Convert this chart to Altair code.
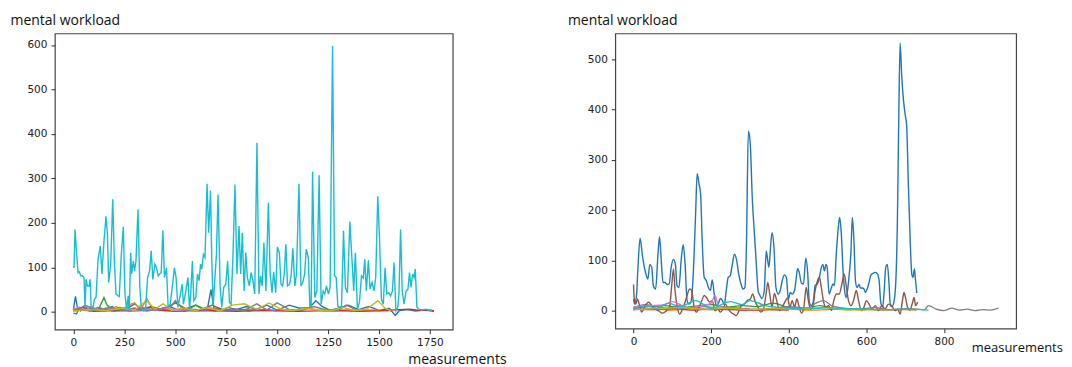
import altair as alt
import pandas as pd

# ---------------- LEFT PANEL DATA ----------------
left_cyan_x = [0, 3, 8, 16, 23, 29, 36, 44, 52, 57, 62, 69, 77, 82, 87, 95, 103, 111, 121, 132, 140, 150, 160, 167, 173, 183, 193, 201, 209, 219, 225, 235, 245, 253, 261, 269, 274, 281, 286, 294, 300, 307, 317, 326, 333, 343, 354, 364, 374, 382, 390, 400, 408, 416, 423, 431, 439, 447, 457, 465, 475, 485, 496, 504, 513, 522, 534, 540, 552, 562, 570, 576, 584, 591, 601, 609, 617, 624, 630, 638, 646, 656, 664, 673, 679, 686, 694, 702, 710, 720, 728, 738, 748, 757, 766, 774, 784, 793, 803, 813, 821, 829, 838, 846, 854, 864, 872, 880, 890, 901, 911, 919, 927, 935, 945, 957, 966, 975, 983, 993, 1001, 1011, 1019, 1027, 1035, 1043, 1051, 1061, 1069, 1077, 1087, 1095, 1107, 1117, 1126, 1135, 1143, 1153, 1161, 1167, 1174, 1185, 1195, 1206, 1216, 1226, 1234, 1242, 1252, 1260, 1272, 1282, 1290, 1298, 1306, 1316, 1326, 1335, 1345, 1357, 1366, 1376, 1384, 1394, 1404, 1414, 1423, 1430, 1438, 1448, 1456, 1466, 1476, 1484, 1494, 1503, 1512, 1521, 1530, 1538, 1548, 1557, 1566, 1574, 1583, 1592, 1598, 1606, 1614, 1623, 1633, 1642, 1650, 1657, 1665, 1672, 1678, 1686, 1695, 1710, 1730, 1750, 1760]
left_cyan_y = [103, 99, 185, 129, 88, 90, 81, 81, 77, 10, 73, 58, 58, 73, 10, 6, 28, 32, 118, 148, 85, 159, 215, 174, 66, 107, 253, 114, 40, 36, 34, 129, 191, 40, 6, 36, 2, 133, 85, 114, 92, 114, 230, 55, 10, 2, 4, 77, 92, 137, 73, 107, 99, 81, 85, 88, 183, 77, 99, 10, 17, 55, 99, 77, 10, 32, 62, 17, 47, 77, 6, 40, 114, 25, 32, 85, 70, 107, 96, 129, 122, 288, 178, 273, 122, 13, 70, 129, 264, 58, 10, 55, 62, 114, 21, 17, 137, 286, 85, 193, 85, 178, 47, 133, 77, 58, 88, 73, 40, 380, 40, 81, 58, 156, 47, 245, 85, 43, 90, 43, 146, 133, 62, 58, 85, 152, 58, 62, 81, 143, 58, 85, 288, 58, 66, 85, 141, 122, 10, 10, 315, 32, 47, 307, 17, 47, 40, 58, 40, 55, 598, 81, 77, 13, 10, 13, 182, 55, 43, 203, 129, 47, 133, 6, 21, 81, 76, 118, 47, 116, 51, 66, 47, 77, 260, 159, 28, 17, 99, 40, 43, 36, 47, 111, 2, 10, 40, 185, 47, 17, 47, 51, 88, 55, 85, 77, 96, 11, 6, 4, 6, 3, 2]

left_blue_x = [0, 10, 20, 35, 50, 70, 90, 110, 130, 160, 190, 220, 260, 300, 340, 380, 420, 470, 520, 560, 600, 640, 660, 675, 690, 720, 760, 800, 850, 900, 950, 1000, 1060, 1110, 1160, 1190, 1220, 1260, 1300, 1350, 1400, 1450, 1500, 1550, 1580, 1600, 1640, 1680, 1720, 1750, 1770]
left_blue_y = [5, 35, 8, 2, 12, 4, 10, 3, 8, 5, 12, 3, 6, 18, 4, 10, 6, 12, 3, 8, 15, 6, 12, 50, 8, 3, 10, 5, 12, 6, 15, 4, 15, 8, 10, 25, 12, 3, 8, 15, 5, 12, 3, 8, -8, 3, 5, 2, 5, 2, 1]

left_orange_x = [0, 30, 60, 90, 120, 150, 180, 210, 240, 270, 300, 330, 360, 390, 420, 450, 500, 550, 600, 650, 700, 750, 800, 850, 900, 950, 1000, 1050, 1100, 1150, 1200, 1250, 1300, 1350, 1400, 1450, 1500, 1560]
left_orange_y = [8, 3, 10, 4, 6, 2, 5, 12, 3, 15, 20, 4, 30, 5, 3, 8, 4, 6, 3, 7, 2, 5, 3, 6, 2, 4, 3, 5, 2, 8, 4, 2, 3, 5, 2, 4, 3, 2]

left_green_x = [0, 15, 30, 60, 90, 120, 150, 165, 190, 230, 270, 300, 350, 400, 450, 500, 550, 600, 650, 700]
left_green_y = [-3, -5, 10, 3, 8, 2, 32, 15, 5, 10, 3, 8, 4, 6, 3, 5, 2, 15, 4, 2]

left_red_x = [0, 50, 100, 200, 300, 400, 500, 600, 700, 800, 900, 1000, 1100, 1200, 1300, 1400, 1500, 1600, 1650, 1700, 1750, 1770]
left_red_y = [2, 4, 1, 3, 2, 4, 1, 3, 2, 1, 3, 2, 1, 2, 3, 1, 2, 5, 6, 3, 4, 2]

left_purple_x = [0, 40, 80, 120, 170, 220, 280, 340, 400, 460, 520, 580, 640, 700, 760, 820, 880, 940, 1000]
left_purple_y = [3, 8, 2, 10, 4, 6, 2, 9, 3, 7, 2, 6, 3, 8, 2, 5, 3, 6, 2]

left_brown_x = [0, 50, 100, 150, 200, 260, 320, 380, 440, 500, 560, 620, 680, 740, 800, 860, 900]
left_brown_y = [4, 10, 3, 6, 2, 8, 3, 12, 4, 20, 5, 3, 15, 4, 6, 2, 5]

left_pink_x = [0, 30, 60, 90, 120, 160, 200, 250, 300, 350, 400, 450, 500, 550, 600]
left_pink_y = [6, 10, 4, 12, 3, 8, 5, 10, 3, 6, 4, 8, 3, 5, 2]

left_gray_x = [0, 60, 120, 180, 240, 300, 360, 420, 480, 500, 540, 600, 660, 720, 780, 840, 900, 950, 1000, 1060, 1120, 1180, 1240, 1300, 1340, 1400]
left_gray_y = [2, 14, 4, 10, 3, 8, 2, 6, 12, 25, 5, 3, 10, 4, 6, 3, 18, 4, 20, 5, 3, 12, 4, 3, 15, 2]

left_olive_x = [0, 80, 160, 240, 300, 360, 400, 440, 480, 540, 600, 660, 720, 780, 840, 900, 960, 1020, 1080, 1140, 1200, 1260, 1320, 1380, 1440, 1495, 1530, 1560]
left_olive_y = [2, 5, 3, 8, 4, 25, 6, 18, 4, 8, 3, 10, 2, 15, 18, 5, 20, 6, 3, 8, 4, 2, 10, 3, 6, 25, 8, 2]

# ---------------- RIGHT PANEL DATA ----------------
right_blue_x = [0, 3, 8, 11, 17, 23, 30, 37, 42, 47, 51, 57, 63, 67, 71, 76, 81, 87, 92, 97, 103, 108, 112, 117, 123, 128, 133, 138, 143, 148, 153, 160, 164, 169, 173, 177, 182, 188, 193, 198, 203, 208, 213, 218, 224, 229, 234, 239, 244, 249, 254, 260, 266, 271, 277, 282, 287, 291, 296, 301, 306, 311, 316, 321, 326, 331, 337, 342, 346, 349, 353, 357, 362, 367, 373, 378, 383, 389, 394, 399, 404, 409, 415, 419, 423, 427, 433, 438, 444, 449, 453, 458, 463, 468, 474, 479, 484, 488, 492, 496, 499, 504, 510, 514, 518, 522, 527, 531, 535, 540, 544, 548, 552, 556, 560, 564, 568, 572, 576, 581, 585, 589, 594, 598, 602, 606, 612, 617, 623, 628, 633, 637, 642, 646, 650, 654, 658, 662, 666, 671, 676, 680, 683, 687, 691, 696, 700, 704, 708, 713, 717, 720, 724, 726, 730]
right_blue_y = [23, 13, 33, 79, 144, 109, 79, 63, 92, 86, 50, 43, 112, 147, 106, 56, 56, 52, 53, 86, 102, 92, 50, 46, 102, 131, 92, 20, 13, 17, 59, 192, 272, 251, 231, 139, 67, 59, 46, 40, 61, 33, 10, 13, 24, 20, 12, 40, 66, 69, 89, 112, 99, 73, 53, 43, 46, 129, 357, 330, 225, 159, 99, 40, 30, 24, 40, 118, 99, 86, 125, 155, 125, 46, 33, 40, 59, 71, 66, 23, 36, 33, 40, 63, 84, 76, 54, 53, 104, 73, 17, 10, 17, 50, 53, 66, 86, 92, 79, 92, 86, 33, 46, 53, 50, 106, 159, 185, 159, 79, 40, 26, 43, 73, 112, 185, 139, 59, 46, 52, 45, 45, 43, 36, 43, 53, 71, 74, 76, 74, 59, 17, 7, 40, 86, 92, 59, 10, 8, 17, 59, 178, 350, 532, 469, 416, 390, 367, 258, 139, 73, 66, 83, 66, 35]

right_brown_x = [0, 2, 6, 10, 15, 21, 30, 39, 47, 56, 64, 75, 85, 93, 98, 103, 107, 113, 119, 126, 133, 139, 145, 150, 156, 162, 169, 176, 182, 188, 196, 203, 210, 217, 224, 230, 237, 244, 251, 258, 265, 272, 278, 285, 293, 301, 307, 314, 321, 328, 335, 342, 346, 351, 357, 363, 369, 376, 383, 390, 397, 403, 409, 415, 421, 426, 433, 439, 445, 450, 456, 462, 468, 474, 479, 484, 490, 496, 503, 510, 516, 523, 530, 537, 543, 548, 554, 561, 567, 574, 580, 587, 594, 600, 607, 614, 623, 631, 640, 648, 657, 665, 674, 681, 687, 693, 697, 701, 706, 712, 718, 723, 727, 732]
right_brown_y = [52, 23, 13, 23, 12, -3, 10, 17, 10, 3, 0, -5, 0, 7, 46, 83, 40, 7, -7, 3, 17, 33, 43, 40, 8, -3, 7, 20, 30, 26, 17, 20, 0, 3, -3, 3, 13, 3, -3, -7, -10, 0, 10, 13, 20, 23, 33, 17, 7, -3, 3, 36, 56, 33, 7, 34, 20, 0, 7, 17, 25, 7, 20, 7, 23, 10, -5, 7, 46, 23, 3, 7, 40, 59, 67, 46, 17, 7, 10, 0, 20, 33, 33, 53, 73, 50, 20, 10, 20, 40, 20, 0, 7, 20, 13, 3, 10, 0, 10, 3, 13, 10, 0, 3, -7, 20, 36, 26, 7, 1, 13, 26, 10, 17]

right_orange_x = [0, 50, 100, 150, 200, 250, 300, 350, 400, 450, 500, 550, 600, 650, 700, 730]
right_orange_y = [2, 3, 1, 4, 2, 3, 1, 2, 3, 1, 2, 4, 2, 1, 2, 1]

right_green_x = [0, 40, 80, 120, 160, 200, 240, 280, 320, 360, 400, 440, 480, 520, 560]
right_green_y = [5, 8, 10, 6, 9, 12, 7, 10, 8, 15, 6, 4, 10, 3, 2]

right_red_x = [0, 50, 100, 150, 200, 250, 300, 350, 400]
right_red_y = [3, 2, 4, 1, 3, 2, 1, 2, 1]

right_purple_x = [0, 30, 60, 90, 120, 150, 180, 210, 240, 270, 300]
right_purple_y = [6, 12, 8, 5, 10, 4, 8, 6, 3, 5, 2]

right_pink_x = [0, 40, 80, 100, 140, 180, 200, 210, 220, 260, 300]
right_pink_y = [8, 10, 12, 18, 6, 10, 15, 30, 8, 5, 3]

right_gray_x = [0, 50, 100, 150, 200, 250, 300, 350, 400, 450, 470, 490, 510, 540, 580, 620, 660, 700, 730, 750, 760, 780, 800, 820, 840, 860, 880, 900, 920, 940]
right_gray_y = [2, 4, 3, 5, 2, 6, 3, 4, 8, 5, 15, 20, 10, 5, 3, 6, 2, 4, 3, 2, 10, 3, 0, 5, 1, 3, 0, 2, 1, 5]

right_olive_x = [0, 60, 120, 180, 240, 300, 360, 420, 480, 540, 600]
right_olive_y = [2, 4, 6, 3, 5, 2, 4, 3, 6, 2, 1]

right_cyan_x = [0, 30, 60, 90, 120, 160, 200, 250, 280, 300, 340, 400, 450, 500, 550, 600, 650, 700, 760]
right_cyan_y = [3, 10, 5, 15, 8, 20, 5, 18, 12, 20, 10, 5, 3, 6, 4, 3, 2, 3, 1]

series_names = ["s0", "s1", "s2", "s3", "s4", "s5", "s6", "s7", "s8", "s9"]
tab10 = ["#1f77b4", "#ff7f0e", "#2ca02c", "#d62728", "#9467bd",
         "#8c564b", "#e377c2", "#7f7f7f", "#bcbd22", "#17becf"]


def build(pairs):
    rows = []
    for name, xs, ys in pairs:
        for x, y in zip(xs, ys):
            rows.append({"series": name, "x": x, "y": y})
    return pd.DataFrame(rows)


df_left = build([
    ("s0", left_blue_x, left_blue_y),
    ("s1", left_orange_x, left_orange_y),
    ("s2", left_green_x, left_green_y),
    ("s3", left_red_x, left_red_y),
    ("s4", left_purple_x, left_purple_y),
    ("s5", left_brown_x, left_brown_y),
    ("s6", left_pink_x, left_pink_y),
    ("s7", left_gray_x, left_gray_y),
    ("s8", left_olive_x, left_olive_y),
    ("s9", left_cyan_x, left_cyan_y),
])

df_right = build([
    ("s0", right_blue_x, right_blue_y),
    ("s1", right_orange_x, right_orange_y),
    ("s2", right_green_x, right_green_y),
    ("s3", right_red_x, right_red_y),
    ("s4", right_purple_x, right_purple_y),
    ("s5", right_brown_x, right_brown_y),
    ("s6", right_pink_x, right_pink_y),
    ("s7", right_gray_x, right_gray_y),
    ("s8", right_olive_x, right_olive_y),
    ("s9", right_cyan_x, right_cyan_y),
])

color = alt.Color("series:N", scale=alt.Scale(domain=series_names, range=tab10), legend=None)

left = alt.Chart(df_left).mark_line(strokeWidth=1.4, clip=True).encode(
    x=alt.X("x:Q", scale=alt.Scale(domain=[-91, 1862], nice=False, zero=False),
            axis=alt.Axis(values=[0, 250, 500, 750, 1000, 1250, 1500, 1750], format="d",
                          title="measurements", titleX=354, titleY=23)),
    y=alt.Y("y:Q", scale=alt.Scale(domain=[-40, 626], nice=False, zero=False),
            axis=alt.Axis(values=[0, 100, 200, 300, 400, 500, 600], format="d",
                          title="mental workload", titleX=-45, titleY=-20)),
    color=color,
    detail="series:N",
).properties(width=399, height=297)

right = alt.Chart(df_right).mark_line(strokeWidth=1.4, clip=True, interpolate="monotone").encode(
    x=alt.X("x:Q", scale=alt.Scale(domain=[-47, 986], nice=False, zero=False),
            axis=alt.Axis(values=[0, 200, 400, 600, 800], format="d",
                          title="measurements", titleX=357, titleY=13, titleFontSize=13)),
    y=alt.Y("y:Q", scale=alt.Scale(domain=[-35.7, 551], nice=False, zero=False),
            axis=alt.Axis(values=[0, 100, 200, 300, 400, 500], format="d",
                          title="mental workload", titleX=-48, titleY=-20)),
    color=color,
    detail="series:N",
).properties(width=402, height=296)

chart = alt.hconcat(left, right, spacing=163, bounds="flush").properties(
    padding={"left": 1, "top": 4, "right": 0, "bottom": 0}
).configure_view(
    stroke="#444", strokeWidth=1.2
).configure_axis(
    grid=False, domain=False,
    tickColor="#333", tickSize=4, tickWidth=1,
    labelFont="DejaVu Sans", labelFontSize=10.5, labelColor="#222", labelPadding=4,
    titleFont="Open Sans", titleFontSize=14, titleFontWeight="normal", titleColor="#111",
    titleAngle=0, titleAlign="left", titleBaseline="top",
)

chart.save("out.html", embed_options={"renderer": "svg", "actions": False})
